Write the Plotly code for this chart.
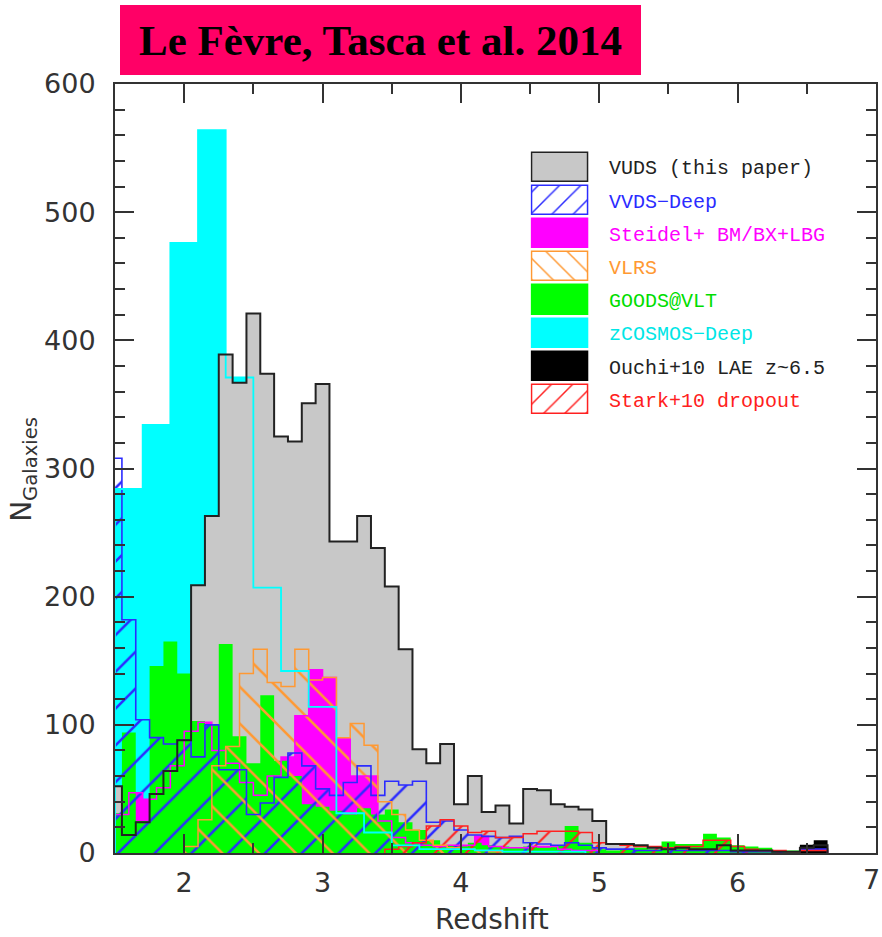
import plotly.graph_objects as go

# ---------------- data ----------------
# VUDS (this paper): bins of width 0.1 centred on these redshifts
vuds_z = [1.5, 1.6, 1.7, 1.8, 1.9, 2.0, 2.1, 2.2, 2.3, 2.4, 2.5, 2.6, 2.7, 2.8, 2.9,
          3.0, 3.1, 3.2, 3.3, 3.4, 3.5, 3.6, 3.7, 3.8, 3.9, 4.0, 4.1, 4.2, 4.3, 4.4,
          4.5, 4.6, 4.7, 4.8, 4.9, 5.0, 5.1, 5.2, 5.3, 5.4, 5.5, 5.6, 5.7, 5.8, 5.9,
          6.0, 6.1, 6.2, 6.3, 6.4, 6.5, 6.6]
vuds_n = [52, 14, 24, 46, 64, 88, 209, 263, 389, 367, 421, 374, 325, 321, 351,
          366, 243, 243, 263, 238, 208, 159, 81, 70, 85, 38, 60, 32, 37, 23,
          50, 49, 38, 36, 34, 25, 7, 7, 6, 4, 3, 4, 3, 3, 6,
          2, 2, 2, 1, 1, 4, 6]

# zCOSMOS-Deep: bins of width 0.2
zcos_z = [1.6, 1.8, 2.0, 2.2, 2.4, 2.6, 2.8, 3.0, 3.2, 3.4, 3.6, 3.8, 4.0, 4.2, 4.4, 4.6, 4.8]
zcos_n = [284, 334, 476, 564, 371, 207, 142, 114, 31, 16, 6, 3, 3, 2, 1, 1, 1]

# GOODS@VLT: width 0.1
goods_z = [1.5, 1.6, 1.7, 1.8, 1.9, 2.0, 2.1, 2.2, 2.3, 2.4, 2.5, 2.6, 2.7, 2.8, 2.9,
           3.0, 3.1, 3.2, 3.3, 3.4, 3.5, 3.6, 3.7, 3.8, 3.9, 4.0, 4.1, 4.2, 4.3, 4.4,
           4.5, 4.6, 4.7, 4.8, 4.9, 5.0, 5.1, 5.2, 5.3, 5.4, 5.5, 5.6, 5.7, 5.8, 5.9,
           6.0, 6.1, 6.2, 6.3, 6.4, 6.5]
goods_n = [31, 94, 25, 146, 165, 140, 103, 100, 163, 91, 70, 123, 72, 60, 38,
           36, 33, 30, 35, 30, 34, 24, 18, 10, 6, 5, 8, 6, 5, 4,
           5, 4, 6, 21, 8, 3, 2, 3, 4, 3, 9, 7, 7, 15, 12,
           6, 5, 4, 2, 2, 1]

# Steidel+ BM/BX+LBG: width 0.1
steidel_z = [1.55, 1.65, 1.75, 1.85, 1.95, 2.05, 2.15, 2.25, 2.35, 2.45, 2.55, 2.65, 2.75,
             2.85, 2.95, 3.05, 3.15, 3.25, 3.35, 3.45, 3.55, 3.65, 3.75, 3.85, 3.95,
             4.05, 4.15, 4.25, 4.35, 4.45, 4.55, 4.65, 4.75, 4.85, 4.95]
steidel_n = [30, 47, 42, 51, 68, 95, 102, 80, 70, 55, 45, 60, 75,
             107, 143, 137, 90, 60, 60, 25, 12, 8, 6, 5, 6,
             6, 13, 5, 4, 4, 5, 5, 3, 2, 2]

# VVDS-Deep: width 0.1
vvds_z = [1.5, 1.6, 1.7, 1.8, 1.9, 2.0, 2.1, 2.2, 2.3, 2.4, 2.5, 2.6, 2.7, 2.8, 2.9,
          3.0, 3.1, 3.2, 3.3, 3.4, 3.5, 3.6, 3.7, 3.8, 3.9, 4.0, 4.1, 4.2, 4.3, 4.4,
          4.5, 4.6, 4.7, 4.8, 4.9, 5.0, 5.1, 5.2, 5.3, 5.4, 5.5, 5.6, 5.7, 5.8, 5.9,
          6.0, 6.1, 6.2, 6.3, 6.4, 6.5, 6.6]
vvds_n = [308, 182, 104, 90, 85, 88, 75, 100, 65, 65, 30, 39, 59, 78, 68,
          50, 45, 55, 68, 45, 56, 53, 56, 24, 25, 18, 14, 13, 12, 13,
          8, 7, 6, 8, 6, 4, 3, 3, 2, 2, 3, 2, 2, 2, 2,
          1, 1, 1, 1, 1, 3, 3]

# VLRS: width 0.1
vlrs_z = [2.05, 2.15, 2.25, 2.35, 2.45, 2.55, 2.65, 2.75, 2.85, 2.95, 3.05, 3.15, 3.25,
          3.35, 3.45, 3.55, 3.65, 3.75, 3.85, 3.95, 4.05, 4.15, 4.25]
vlrs_n = [5, 26, 68, 83, 140, 159, 133, 130, 159, 135, 137, 90, 101,
          84, 40, 30, 18, 10, 6, 4, 3, 2, 1]

# Stark+10 dropout: width 0.1
stark_z = [3.5, 3.6, 3.7, 3.8, 3.9, 4.0, 4.1, 4.2, 4.3, 4.4, 4.5, 4.6, 4.7, 4.8, 4.9,
           5.0, 5.1, 5.2, 5.3, 5.4, 5.5, 5.6, 5.7, 5.8, 5.9, 6.0, 6.1, 6.2, 6.3, 6.4,
           6.5, 6.6]
stark_n = [3, 5, 8, 21, 26, 21, 16, 17, 12, 12, 15, 17, 17, 17, 16,
           8, 7, 6, 5, 5, 4, 5, 5, 10, 10, 5, 3, 2, 2, 1,
           2, 2]

# Ouchi+10 LAE z~6.5: width 0.1
ouchi_z = [6.5, 6.6]
ouchi_n = [6.5, 10]

legend_labels = ["VUDS (this paper)", "VVDS\u2212Deep", "Steidel+ BM/BX+LBG", "VLRS",
                 "GOODS@VLT", "zCOSMOS\u2212Deep", "Ouchi+10 LAE z~6.5", "Stark+10 dropout"]

x_ticks = [2, 3, 4, 5, 6, 7]
y_ticks = [0, 100, 200, 300, 400, 500, 600]

# ---------------- styles ----------------
GREY = "#c8c8c8"
CYAN = "#00ffff"
GREEN = "#00ff00"
MAGENTA = "#ff00ff"
BLUE = "#2b2bff"
ORANGE = "#ff9933"
RED = "#ff2020"
FRAME = "#333333"


def step(centers, width, values):
    xs = [centers[0] - width / 2]
    ys = [0]
    for c, v in zip(centers, values):
        xs.append(c - width / 2)
        ys.append(v)
    xs.append(centers[-1] + width / 2)
    ys.append(values[-1])
    xs.append(centers[-1] + width / 2)
    ys.append(0)
    return xs, ys


fig = go.Figure()


def add_fill(z, n, w, color):
    xs, ys = step(z, w, n)
    fig.add_trace(go.Scatter(x=xs, y=ys, mode="lines", line=dict(width=0, color=color, shape="hv"),
                             fill="tozeroy", fillcolor=color, showlegend=False, hoverinfo="skip"))


def add_hatch(z, n, w, color, shape, size=26):
    xs, ys = step(z, w, n)
    fig.add_trace(go.Scatter(x=xs, y=ys, mode="lines", line=dict(width=0, color=color, shape="hv"),
                             fill="tozeroy", fillcolor="rgba(0,0,0,0)",
                             fillpattern=dict(shape=shape, fgcolor=color, bgcolor="rgba(0,0,0,0)",
                                              size=size, solidity=0.1, fgopacity=1),
                             showlegend=False, hoverinfo="skip"))


def add_line(z, n, w, color, width):
    xs, ys = step(z, w, n)
    fig.add_trace(go.Scatter(x=xs, y=ys, mode="lines", line=dict(width=width, color=color, shape="hv"),
                             showlegend=False, hoverinfo="skip"))


add_fill(zcos_z, zcos_n, 0.2, CYAN)
add_fill(vuds_z, vuds_n, 0.1, GREY)
add_fill(steidel_z, steidel_n, 0.1, MAGENTA)
add_fill(goods_z, goods_n, 0.1, GREEN)
add_hatch(vvds_z, vvds_n, 0.1, BLUE, "/")
add_hatch(vlrs_z, vlrs_n, 0.1, ORANGE, "\\")
add_hatch(stark_z, stark_n, 0.1, RED, "/", 22)
add_fill(ouchi_z, ouchi_n, 0.1, "#000000")
add_line(steidel_z, steidel_n, 0.1, MAGENTA, 1.5)
add_line(vvds_z, vvds_n, 0.1, BLUE, 1.6)
add_line(vlrs_z, vlrs_n, 0.1, ORANGE, 1.5)
add_line(stark_z, stark_n, 0.1, RED, 1.5)
add_line(zcos_z, zcos_n, 0.2, CYAN, 1.8)
add_line(vuds_z, vuds_n, 0.1, "#222222", 2)

# ---------------- legend swatches (inset axes) ----------------
sw_fill = [GREY, "rgba(0,0,0,0)", MAGENTA, "rgba(0,0,0,0)", GREEN, CYAN, "#000000", "rgba(0,0,0,0)"]
sw_line = ["#222222", BLUE, MAGENTA, ORANGE, GREEN, CYAN, "#000000", RED]
sw_pat = ["", "/", "", "\\", "", "", "", "/"]
txt_col = ["#222222", BLUE, MAGENTA, ORANGE, "#00dd00", "#00e6e6", "#222222", RED]
for i in range(8):
    fig.add_trace(go.Bar(x=[1], y=[i], base=0, orientation="h", width=0.88,
                         xaxis="x2", yaxis="y2", showlegend=False, hoverinfo="skip",
                         marker=dict(color=sw_fill[i], line=dict(color=sw_line[i], width=1.5),
                                     pattern=dict(shape=sw_pat[i], fgcolor=sw_line[i],
                                                  bgcolor="rgba(0,0,0,0)", size=15,
                                                  solidity=0.1, fgopacity=1))))

L, R, T, B = 115, 6, 84, 83.7
W, H = 882 - L - R, 937 - T - B


def px(xp):
    return (xp - L) / W


def py(yp):
    return (937 - B - yp) / H


ann = []
for i, lab in enumerate(legend_labels):
    ann.append(dict(x=px(607), y=py(169 + 33.2 * i), xref="paper", yref="paper", text=lab,
                    showarrow=False, xanchor="left", yanchor="middle",
                    font=dict(family="Liberation Mono", size=20, color=txt_col[i])))

# last x tick label sits against the page edge, drawn as a note so the plot area is not pushed
ann.append(dict(x=px(882), xref="paper", y=py(880), yref="paper", text=str(x_ticks[-1]),
                showarrow=False, xanchor="right", yanchor="middle",
                font=dict(family="DejaVu Sans", size=27, color="#333333")))

ann.append(dict(x=px(380), y=py(40), xref="paper", yref="paper",
                text="<b>Le F\u00e8vre, Tasca et al. 2014</b>", showarrow=False,
                xanchor="center", yanchor="middle",
                font=dict(family="Liberation Serif", size=43, color="#000000")))
ann.append(dict(x=px(492), y=py(920), xref="paper", yref="paper", text="Redshift",
                showarrow=False, xanchor="center", yanchor="middle",
                font=dict(family="DejaVu Sans", size=28, color="#333333")))
ann.append(dict(x=px(24), y=py(470), xref="paper", yref="paper", text="N<sub>Galaxies</sub>",
                showarrow=False, xanchor="center", yanchor="middle", textangle=-90,
                font=dict(family="DejaVu Sans", size=28, color="#333333")))

shapes = [dict(type="rect", xref="paper", yref="paper", x0=px(120), x1=px(641),
               y0=py(75), y1=py(5), fillcolor="#ff0066", line=dict(width=0), layer="below")]

axis_common = dict(showline=True, linecolor=FRAME, linewidth=2, mirror="allticks",
                   ticks="inside", tickcolor=FRAME, tickwidth=2, showgrid=False, zeroline=False,
                   automargin=False,
                   tickfont=dict(family="DejaVu Sans", size=27, color="#333333"))

fig.update_layout(
    width=882, height=937,
    margin=dict(l=L, r=R, t=T, b=B, pad=0, autoexpand=False),
    paper_bgcolor="white", plot_bgcolor="white",
    showlegend=False,
    xaxis=dict(range=[1.5, 7], tickvals=x_ticks[:-1],
               ticklen=19, ticklabelstandoff=5,
               minor=dict(dtick=0.5, tick0=1.5, ticklen=10, tickcolor=FRAME, tickwidth=2, ticks="inside"),
               **axis_common),
    yaxis=dict(range=[0, 600], tickvals=y_ticks, ticklen=19, ticklabelstandoff=12,
               minor=dict(dtick=20, tick0=0, ticklen=10, tickcolor=FRAME, tickwidth=2, ticks="inside"),
               **axis_common),
    xaxis2=dict(domain=[px(530.3), px(590.2)], range=[-0.03, 1.03], visible=False, anchor="y2"),
    yaxis2=dict(domain=[py(416), py(151)], range=[7.5, -0.5], visible=False, anchor="x2"),
    annotations=ann,
    shapes=shapes,
    bargap=0,
)

fig.write_html("out.html")
